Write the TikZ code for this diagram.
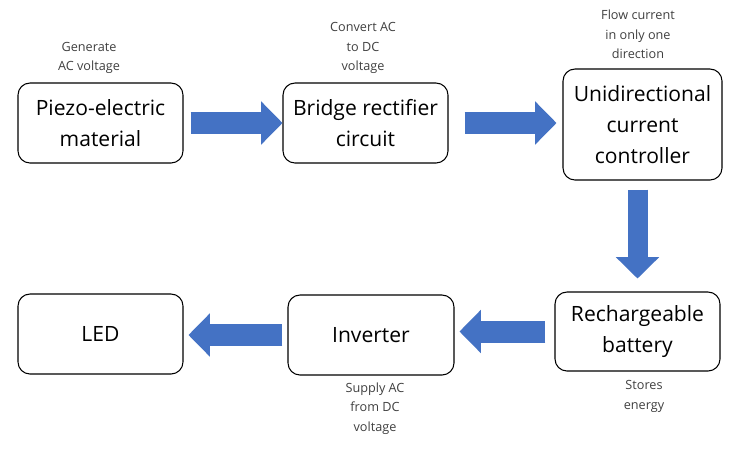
\documentclass[tikz,border=0pt]{standalone}
\usepackage{xcolor}
\usepackage{fontspec}
\setmainfont{Open Sans}
\usepackage{tikz}
\usetikzlibrary{positioning,arrows.meta}
\definecolor{arrowblue}{HTML}{4472C4}
\definecolor{notegray}{HTML}{404040}

\tikzset{
  box/.style={draw,rounded corners=9pt,line width=.8pt,align=center,inner sep=0pt,
    font={\fontsize{15.8}{23}\selectfont}},
  note/.style={align=center,text=notegray,inner sep=0pt,
    font={\fontsize{9.5}{14.6}\selectfont}},
  blockarrow/.style={draw=arrowblue,line width=16.5pt,
    -{Triangle[length=16pt,width=32.5pt,line width=0pt]}}
}

\begin{document}
\begin{tikzpicture}[x=.75pt,y=-.75pt]
    \useasboundingbox[fill=white] (0,0) rectangle (739,455);

    \node[box,minimum width=123.75pt,minimum height=60pt] (b1) at (100.5,123) {Piezo-electric\\material};
    \node[box,minimum width=123.75pt,minimum height=60pt] (b2) at (365.5,123) {Bridge rectifier\\circuit};
    \node[box,minimum width=119.25pt,minimum height=83.25pt] (b3) at (642.5,124.5) {Unidirectional\\current\\controller};
    \node[box,minimum width=123.75pt,minimum height=59.25pt] (b4) at (637.5,331.5) {Rechargeable\\battery};
    \node[box,minimum width=124.5pt,minimum height=60pt] (b5) at (371,335) {Inverter};
    \node[box,minimum width=123.75pt,minimum height=60pt] (b6) at (100.5,334) {LED};

    \node[note] (n1) at (89,58) {Generate\\AC voltage};
    \node[note] (n2) at (363,48) {Convert AC\\to DC\\voltage};
    \node[note] (n3) at (638,34.5) {Flow current\\in only one\\direction};
    \node[note] (n4) at (644,396.5) {Stores\\energy};
    \node[note] (n5) at (375,408.5) {Supply AC\\from DC\\voltage};

    \draw[blockarrow,shorten <=5.25pt] (b1.east) -- (b2.west);
    \draw[blockarrow,shorten <=12pt,shorten >=4.5pt] (b2.east) -- (b2.east -| b3.west);
    \draw[blockarrow,line width=15pt,shorten <=6.75pt,shorten >=9.75pt] (b4.north |- b3.south) -- (b4.north);
    \draw[blockarrow,shorten <=6.75pt,shorten >=3.75pt] (b4.west) -- (b4.west -| b5.east);
    \draw[blockarrow,shorten <=3.75pt,shorten >=3.75pt] (b5.west) -- (b5.west -| b6.east);
\end{tikzpicture}
\end{document}
